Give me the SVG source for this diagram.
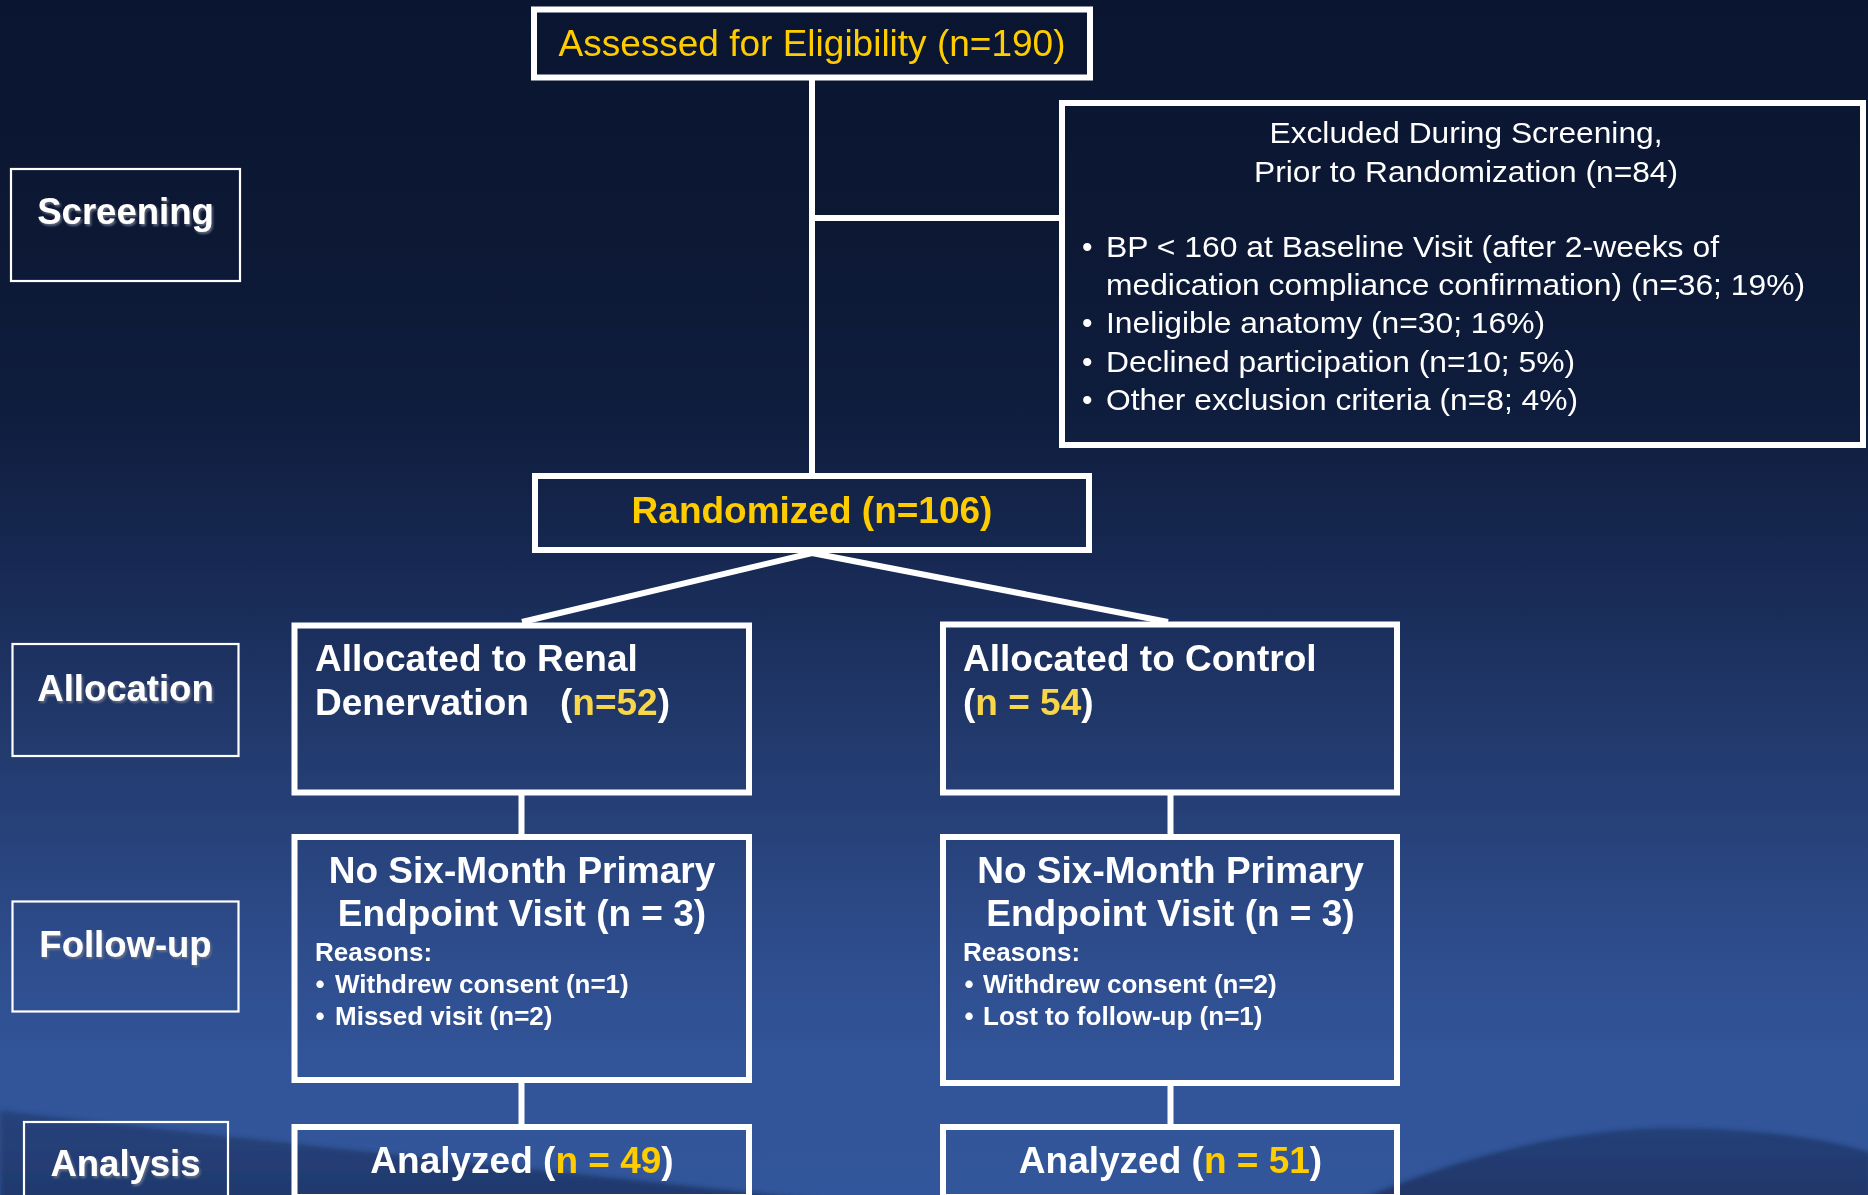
<svg xmlns="http://www.w3.org/2000/svg" width="1868" height="1195" viewBox="0 0 1868 1195">
<defs>
<linearGradient id="bg" x1="0" y1="0" x2="0" y2="1">
<stop offset="0" stop-color="#0a1631"/>
<stop offset="0.2" stop-color="#0c1834"/>
<stop offset="0.35" stop-color="#0f1d3e"/>
<stop offset="0.5" stop-color="#192c58"/>
<stop offset="0.65" stop-color="#243d72"/>
<stop offset="0.8" stop-color="#2e4d8d"/>
<stop offset="0.9" stop-color="#32559a"/>
<stop offset="1" stop-color="#32569b"/>
</linearGradient>
<linearGradient id="hill" x1="0" y1="0" x2="0" y2="1">
<stop offset="0" stop-color="#233d72"/>
<stop offset="1" stop-color="#1c315f"/>
</linearGradient>
<filter id="soft" x="-5%" y="-20%" width="110%" height="140%">
<feGaussianBlur stdDeviation="2"/>
</filter>
<filter id="emboss" x="-10%" y="-20%" width="120%" height="150%">
<feDropShadow dx="1.5" dy="2" stdDeviation="0.8" flood-color="#6d7589" flood-opacity="0.9"/>
</filter>
</defs>
<style>
.box{fill:none;stroke:#ffffff;stroke-width:6}
.stage{fill:none;stroke:#ffffff;stroke-width:2.2}
.conn{stroke:#ffffff;stroke-width:6;fill:none}
.b{font-family:"Liberation Sans",Arial,sans-serif;font-weight:bold;fill:#ffffff}
.r{font-family:"Liberation Sans",Arial,sans-serif;fill:#ffffff}
.big{font-size:37px}
.sm{font-size:26px}
.ex{font-size:30px}
.lab{font-size:36.5px;filter:url(#emboss)}
.y{fill:#ffcc00}
.y2{fill:#f7d64a}
</style>
<rect x="0" y="0" width="1868" height="1195" fill="url(#bg)"/>
<g id="background-hills" filter="url(#soft)">
<path d="M0,1110 C200,1135 500,1165 820,1200 L0,1200 Z" fill="url(#hill)" opacity="0.75"/>
<path d="M1360,1200 C1450,1160 1560,1130 1660,1128 C1760,1127 1830,1140 1870,1152 L1870,1200 Z" fill="url(#hill)" opacity="0.85"/>
</g>

<g id="connectors">
<line class="conn" x1="812" y1="80" x2="812" y2="476" stroke-width="5"/>
<line class="conn" x1="812" y1="218" x2="1062" y2="218"/>
<line class="conn" x1="812" y1="553" x2="522" y2="622" stroke-width="6.5"/>
<line class="conn" x1="812" y1="553" x2="1168" y2="622" stroke-width="6.5"/>
<line class="conn" x1="521.5" y1="795" x2="521.5" y2="836" stroke-width="5"/>
<line class="conn" x1="1170.5" y1="795" x2="1170.5" y2="836" stroke-width="5"/>
<line class="conn" x1="521.5" y1="1083" x2="521.5" y2="1126" stroke-width="5"/>
<line class="conn" x1="1170.5" y1="1085" x2="1170.5" y2="1126" stroke-width="5"/>
</g>

<g id="stage-screening">
<rect class="stage" x="11" y="169" width="229" height="112"/>
<text class="b lab" x="125.5" y="224" text-anchor="middle">Screening</text>
</g>
<g id="stage-allocation">
<rect class="stage" x="12.5" y="644" width="226" height="112"/>
<text class="b lab" x="125.5" y="701" text-anchor="middle">Allocation</text>
</g>
<g id="stage-followup">
<rect class="stage" x="12.5" y="901.5" width="226" height="110"/>
<text class="b lab" x="125.5" y="957" text-anchor="middle">Follow-up</text>
</g>
<g id="stage-analysis">
<rect class="stage" x="24" y="1122" width="204" height="90"/>
<text class="b lab" x="125.5" y="1176" text-anchor="middle">Analysis</text>
</g>

<g id="node-assessed">
<rect class="box" x="534" y="9.5" width="556" height="68"/>
<text class="r big y" x="812" y="56" text-anchor="middle">Assessed for Eligibility (n=190)</text>
</g>

<g id="node-excluded">
<rect class="box" x="1062" y="103" width="801" height="342"/>
<text class="r ex" x="1466" y="143" text-anchor="middle" textLength="393" lengthAdjust="spacingAndGlyphs">Excluded During Screening,</text>
<text class="r ex" x="1466" y="182" text-anchor="middle" textLength="424" lengthAdjust="spacingAndGlyphs">Prior to Randomization (n=84)</text>
<text class="r ex" x="1082" y="257">•</text>
<text class="r ex" x="1106" y="257" textLength="613" lengthAdjust="spacingAndGlyphs">BP &lt; 160 at Baseline Visit (after 2-weeks of</text>
<text class="r ex" x="1106" y="295" textLength="699" lengthAdjust="spacingAndGlyphs">medication compliance confirmation) (n=36; 19%)</text>
<text class="r ex" x="1082" y="333">•</text>
<text class="r ex" x="1106" y="333" textLength="439" lengthAdjust="spacingAndGlyphs">Ineligible anatomy (n=30; 16%)</text>
<text class="r ex" x="1082" y="372">•</text>
<text class="r ex" x="1106" y="372" textLength="469" lengthAdjust="spacingAndGlyphs">Declined participation (n=10; 5%)</text>
<text class="r ex" x="1082" y="410">•</text>
<text class="r ex" x="1106" y="410" textLength="472" lengthAdjust="spacingAndGlyphs">Other exclusion criteria (n=8; 4%)</text>
</g>

<g id="node-randomized">
<rect class="box" x="535" y="476" width="554" height="74"/>
<text class="b big y" x="812" y="523" text-anchor="middle">Randomized (n=106)</text>
</g>

<g id="node-alloc-rdn">
<rect class="box" x="294.5" y="625.5" width="454.5" height="167"/>
<text class="b big" x="315" y="671">Allocated to Renal</text>
<text class="b big" x="315" y="715">Denervation<tspan x="560">(</tspan><tspan class="y2">n=52</tspan>)</text>
</g>

<g id="node-alloc-control">
<rect class="box" x="943" y="624.5" width="454" height="168"/>
<text class="b big" x="963" y="671">Allocated to Control</text>
<text class="b big" x="963" y="715">(<tspan class="y2">n = 54</tspan>)</text>
</g>

<g id="node-fu-rdn">
<rect class="box" x="294.5" y="837" width="454.5" height="243"/>
<text class="b big" x="522" y="883" text-anchor="middle">No Six-Month Primary</text>
<text class="b big" x="522" y="926" text-anchor="middle">Endpoint Visit (n = 3)</text>
<text class="b sm" x="315" y="961">Reasons:</text>
<text class="b sm" x="315.5" y="993">•</text>
<text class="b sm" x="335" y="993">Withdrew consent (n=1)</text>
<text class="b sm" x="315.5" y="1025">•</text>
<text class="b sm" x="335" y="1025">Missed visit (n=2)</text>
</g>

<g id="node-fu-control">
<rect class="box" x="943" y="837" width="454" height="246"/>
<text class="b big" x="1170.5" y="883" text-anchor="middle">No Six-Month Primary</text>
<text class="b big" x="1170.5" y="926" text-anchor="middle">Endpoint Visit (n = 3)</text>
<text class="b sm" x="963" y="961">Reasons:</text>
<text class="b sm" x="964.5" y="993">•</text>
<text class="b sm" x="983" y="993">Withdrew consent (n=2)</text>
<text class="b sm" x="964.5" y="1025">•</text>
<text class="b sm" x="983" y="1025">Lost to follow-up (n=1)</text>
</g>

<g id="node-analyzed-rdn">
<rect class="box" x="294.5" y="1127" width="454.5" height="70"/>
<text class="b big" x="522" y="1173" text-anchor="middle">Analyzed (<tspan class="y">n = 49</tspan>)</text>
</g>

<g id="node-analyzed-control">
<rect class="box" x="943" y="1127" width="454" height="70"/>
<text class="b big" x="1170.5" y="1173" text-anchor="middle">Analyzed (<tspan class="y">n = 51</tspan>)</text>
</g>
</svg>
